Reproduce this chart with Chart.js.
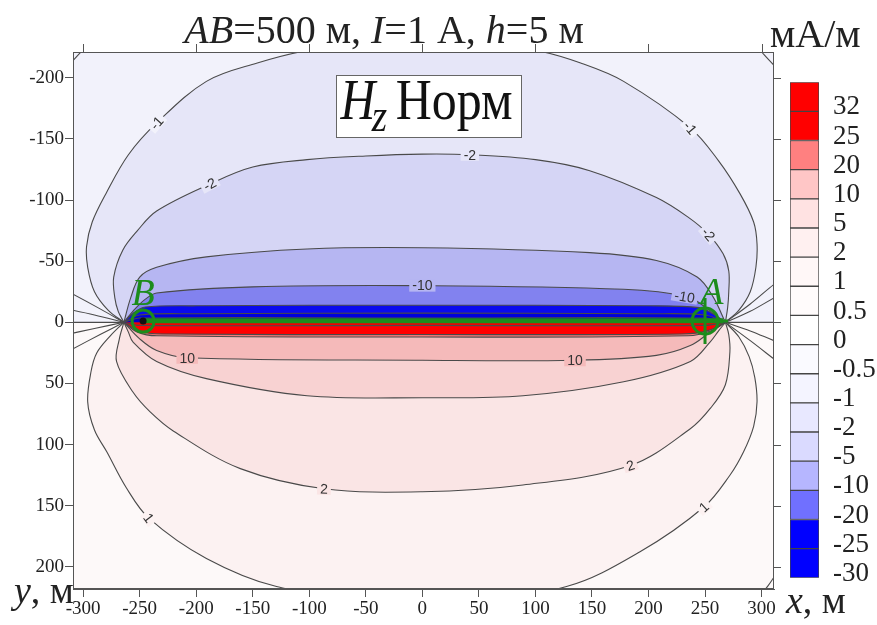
<!DOCTYPE html>
<html>
<head>
<meta charset="utf-8">
<script src="https://cdn.jsdelivr.net/npm/chart.js@4.4.1/dist/chart.umd.min.js"></script>
<style>
  html, body { margin: 0; padding: 0; background: #fff; }
  #wrap { position: relative; width: 877px; height: 625px; overflow: hidden; }
  #main { position: absolute; left: 0; top: 0; }
  #bar { position: absolute; left: 790px; top: 60px; }
</style>
</head>
<body>
<div id="wrap">
  <canvas id="main" width="877" height="625"></canvas>
  <canvas id="bar" width="87" height="540"></canvas>
</div>
<script>
// axes
const xTicks = [-300, -250, -200, -150, -100, -50, 0, 50, 100, 150, 200, 250, 300];
const xTopTicks = [-300, -200, -100, 0, 100, 200, 300];
const yTicks = [-200, -150, -100, -50, 0, 50, 100, 150, 200];

// colour bar, top to bottom
const levelLabels = ['32', '25', '20', '10', '5', '2', '1', '0.5', '0', '-0.5', '-1', '-2', '-5', '-10', '-20', '-25', '-30'];
const cellColors = ['#ff0000', '#ff0000', '#ff8080', '#ffc6c6', '#ffe2e2', '#fff0f0', '#fff7f7', '#fffbfb', '#ffffff',
  '#fafaff', '#f4f4ff', '#e8e8ff', '#dadaff', '#b6b6ff', '#7070ff', '#0000ff', '#0000ff'];

// contours above the line (y < 0), B side -> A side
const cNeg1 = [[-264, 0], [-278, -10], [-290, -25], [-296, -45], [-297, -62], [-292, -82], [-280, -105], [-260, -137], [-235, -163],
  [-191, -197], [-146, -212], [-103, -222], [0, -236], [102, -222], [140, -212], [178, -197], [237, -159], [262, -132], [281, -105],
  [293, -82], [296, -64], [295, -45], [290, -25], [280, -10], [268, 0]];
const cNeg2 = [[-264, 0], [-269, -9], [-272, -20], [-273, -37], [-265, -59], [-252, -75], [-235, -91], [-188, -113], [-150, -127],
  [-102, -133], [-50, -136], [0, -137.5], [42, -137], [100, -133], [148, -124], [207, -102], [235, -86], [253, -72], [266, -56],
  [271, -42], [271, -25], [270, -12], [268, 0]];
const cNeg5 = [[-264, 0], [-258, -20], [-250, -37], [-235, -45], [-191, -53.5], [-102, -60], [0, -61], [148, -57], [207, -50.5],
  [243, -37], [257, -21], [268, 0]];
const cNeg10 = [[-264, 0], [-258, -7], [-252, -13], [-245, -19], [-235, -24], [-150, -29], [0, -30], [178, -27], [234, -21],
  [251, -12], [260, -5], [268, 0]];
const cNeg20 = [[-264, 0], [-255, -8], [-245, -12.5], [-200, -13.5], [0, -14], [200, -13.5], [245, -12], [257, -7], [268, 0]];
const cNeg25 = [[-264, 0], [-250, -6], [-200, -7], [0, -7.5], [200, -7], [250, -6], [268, 0]];
const cNeg30 = [[-264, 0], [-250, -3.5], [0, -3.5], [250, -3.5], [268, 0]];

// contours below the line (y > 0)
const cPos1 = [[-264, 0], [-276, 11], [-288, 25], [-293, 40], [-296, 65], [-290, 88], [-279, 106], [-262, 135], [-242, 160],
  [-191, 193], [-129, 216], [0, 236], [127.5, 216], [192.5, 187.6], [249, 151], [272, 125], [284, 106], [293, 85], [296, 65],
  [294, 45], [289, 28], [280, 12], [268, 0]];
const cPos2 = [[-264, 0], [-268, 13.5], [-270.5, 32], [-256, 57], [-241, 73], [-220, 89], [-161, 119.6], [-87, 136], [0, 138.5],
  [89, 133], [184, 117], [237, 87], [255, 70], [268, 51], [272, 24], [271, 10], [268, 0]];
const cPos5 = [[-264, 0], [-260, 8], [-256, 16], [-235, 32], [-191, 46], [-102, 60], [0, 61.6], [89, 60], [178, 48.6], [237, 32],
  [254.6, 16], [262, 7], [268, 0]];
const cPos10 = [[-264, 0], [-250, 13.5], [-235, 23], [-208, 29], [0, 31], [135, 31], [207, 27], [237, 19], [254.6, 8], [268, 0]];
const cPos20 = [[-264, 0], [-252, 8], [-235, 11], [0, 12], [235, 11], [255, 7], [268, 0]];
const cPos25 = [[-264, 0], [-250, 7.5], [-230, 9.5], [0, 10], [230, 9.5], [252, 7], [268, 0]];
const cPos32 = [[-264, 0], [-250, 2.5], [0, 2.5], [250, 2.5], [268, 0]];

// short contour pieces leaving the frame
const fanLines = [
  [[-264, 0], [-285, -11], [-309, -23], [-330, -33]],
  [[-264, 0], [-290, -6], [-320, -12]],
  [[-264, 0], [-285, 10], [-309, 21.6], [-330, 32]],
  [[-264, 0], [-290, 5], [-320, 11]],
  [[268, 0], [290, -15], [311, -31], [325, -40]],
  [[268, 0], [290, -9], [311, -20], [325, -27]],
  [[268, 0], [290, 7], [311, 15], [325, 20]],
  [[268, 0], [290, 15], [311, 30], [325, 40]],
  [[-320, 0], [-264, 0]],
  [[268, 0], [320, 0]],
  [[-316, -207], [-309, -214], [-301, -222], [-295, -228]],
  [[296, -226], [302, -219], [311, -210], [316, -204]],
  [[300, 222], [306, 215], [312, 207], [318, 200]]
];

// line AB and electrodes
const wireAB = [[-247, -1.2], [266, -1.2]];
const electrodeB = [-247, -1];
const electrodeA = [250, -1];

// contour labels: text, x, y, angle
const contourLabels = [
  ['-1', -235, -163, -49], ['-1', 237, -159, 50], ['-2', -188, -113, -27], ['-2', 42, -137, 0], ['-2', 253, -72, 50],
  ['-10', 0, -30, 0], ['-10', 232, -21, 10], ['10', -208, 29, 0], ['10', 135, 31, 0], ['2', -87, 136, 2], ['2', 184, 117, -18],
  ['1', -242, 160, 53], ['1', 249, 151, -42]
];

const P = a => a.map(([x, y]) => ({ x, y }));
const green = '#1c8c1c';

function contour(pts, fillColor, order) {
  return {
    data: P(pts),
    fill: fillColor ? 'shape' : false,
    backgroundColor: fillColor || 'transparent',
    borderColor: '#4a4a4a',
    borderWidth: 1.1,
    pointRadius: 0,
    tension: 0.35,
    order
  };
}

const datasets = [
  contour(cNeg1, '#e6e6f8', 40), contour(cNeg2, '#d5d5f5', 39), contour(cNeg5, '#b6b6f2', 38), contour(cNeg10, '#8282ef', 37),
  contour(cNeg20, '#0a0aee', 36), contour(cNeg25, '#0000dc', 35), contour(cNeg30, '#0000c4', 34),
  contour(cPos1, '#fcf2f2', 40), contour(cPos2, '#fae5e5', 39), contour(cPos5, '#f8d2d2', 38), contour(cPos10, '#f5baba', 37),
  contour(cPos20, '#f47878', 36), contour(cPos25, '#ff0000', 35), contour(cPos32, '#f00000', 34),
  ...fanLines.map(l => contour(l, null, 10)),
  { data: P(wireAB), borderColor: green, borderWidth: 5, pointRadius: 0, fill: false, order: 3 },
  { data: P([electrodeB]), showLine: false, pointStyle: 'circle', pointRadius: 11, pointBorderWidth: 3,
    pointBorderColor: green, pointBackgroundColor: 'rgba(0,0,0,0)', order: 2 },
  { data: P([electrodeB]), showLine: false, pointStyle: 'circle', pointRadius: 3.5, pointBorderWidth: 0,
    pointBackgroundColor: '#111', order: 1 },
  { data: P([electrodeA]), showLine: false, pointStyle: 'circle', pointRadius: 13, pointBorderWidth: 3,
    pointBorderColor: green, pointBackgroundColor: 'rgba(0,0,0,0)', order: 2 },
  { data: P([electrodeA]), showLine: false, pointStyle: 'cross', pointRadius: 23, pointBorderWidth: 3,
    pointBorderColor: green, order: 1 }
];

const serif = "'Liberation Serif', 'Times New Roman', Times, serif";

function runs(ctx, parts, x, y, size, align, weight) {
  const fontOf = it => (it ? 'italic ' : '') + (weight ? weight + ' ' : '') + size + 'px ' + serif;
  let w = 0;
  parts.forEach(([t, it]) => { ctx.font = fontOf(it); w += ctx.measureText(t).width; });
  let cx = align === 'center' ? x - w / 2 : x;
  ctx.textAlign = 'left';
  ctx.textBaseline = 'alphabetic';
  parts.forEach(([t, it]) => { ctx.font = fontOf(it); ctx.fillText(t, cx, y); cx += ctx.measureText(t).width; });
}

const overlay = {
  id: 'overlay',
  beforeDatasetsDraw(chart) {
    const { ctx, chartArea: a, scales: { y } } = chart;
    const y0 = y.getPixelForValue(0);
    ctx.save();
    ctx.fillStyle = '#f2f2fb';
    ctx.fillRect(a.left, a.top, a.width, y0 - a.top);
    ctx.fillStyle = '#fdf9f9';
    ctx.fillRect(a.left, y0, a.width, a.bottom - y0);
    ctx.restore();
  },
  afterDatasetsDraw(chart) {
    const { ctx, chartArea: a, scales: { x, y } } = chart;
    ctx.save();
    // contour labels
    ctx.font = '14px Arial, sans-serif';
    contourLabels.forEach(([t, vx, vy, ang]) => {
      const px = x.getPixelForValue(vx), py = y.getPixelForValue(vy);
      const r = ang * Math.PI / 180;
      const sx = Math.round(px + Math.sin(r) * 6), sy = Math.round(py - Math.cos(r) * 6);
      const d = ctx.getImageData(sx, sy, 1, 1).data;
      ctx.save();
      ctx.translate(px, py);
      ctx.rotate(r);
      const w = ctx.measureText(t).width;
      ctx.fillStyle = `rgb(${d[0]},${d[1]},${d[2]})`;
      ctx.fillRect(-w / 2 - 3, -6, w + 6, 12);
      ctx.fillStyle = '#333';
      ctx.textAlign = 'center';
      ctx.textBaseline = 'middle';
      ctx.fillText(t, 0, 1);
      ctx.restore();
    });
    // frame and outer ticks
    ctx.strokeStyle = '#555';
    ctx.lineWidth = 1;
    ctx.strokeRect(a.left + 0.5, a.top + 0.5, a.width - 1, a.height - 1);
    ctx.beginPath();
    xTopTicks.forEach(v => {
      const px = Math.round(x.getPixelForValue(v)) + 0.5;
      ctx.moveTo(px, a.top); ctx.lineTo(px, a.top - 8);
    });
    yTicks.forEach(v => {
      const py = Math.round(y.getPixelForValue(v)) + 0.5;
      ctx.moveTo(a.right, py); ctx.lineTo(a.right + 7, py);
    });
    ctx.stroke();
    // Hz box
    const bl = x.getPixelForValue(-76), br = x.getPixelForValue(88);
    const bt = y.getPixelForValue(-202), bb = y.getPixelForValue(-151);
    ctx.fillStyle = '#fff';
    ctx.fillRect(bl, bt, br - bl, bb - bt);
    ctx.strokeStyle = '#666';
    ctx.strokeRect(Math.round(bl) + 0.5, Math.round(bt) + 0.5, Math.round(br - bl), Math.round(bb - bt));
    ctx.fillStyle = '#111';
    ctx.save();
    ctx.translate(bl + 4, 0);
    ctx.scale(0.86, 1);
    ctx.font = 'italic 56px ' + serif;
    ctx.fillText('H', 0, bt + 44);
    let cx = ctx.measureText('H').width - 4;
    ctx.font = 'italic 46px ' + serif;
    ctx.fillText('z', cx, bt + 56);
    cx += ctx.measureText('z').width + 10;
    ctx.font = '58px ' + serif;
    ctx.fillText('Норм', cx, bt + 44);
    ctx.restore();
    // electrode letters
    ctx.fillStyle = green;
    ctx.textAlign = 'center';
    ctx.textBaseline = 'alphabetic';
    ctx.font = 'italic 38px ' + serif;
    ctx.fillText('B', x.getPixelForValue(-247), y.getPixelForValue(-14));
    ctx.fillText('A', x.getPixelForValue(256), y.getPixelForValue(-15));
    ctx.restore();
  },
  afterDraw(chart) {
    const { ctx } = chart;
    ctx.save();
    ctx.fillStyle = '#222';
    runs(ctx, [['AB', true], ['=500 м, ', false], ['I', true], ['=1 А, ', false], ['h', true], ['=5 м', false]], 384, 43, 40, 'center');
    runs(ctx, [['мА/м', false]], 770, 47, 40, 'left');
    runs(ctx, [['y', true], [', м', false]], 14, 603, 38, 'left');
    runs(ctx, [['x', true], [', м', false]], 786, 613, 38, 'left');
    ctx.restore();
  }
};

const tickFont = { family: serif, size: 19 };

new Chart(document.getElementById('main'), {
  type: 'line',
  data: { datasets },
  options: {
    responsive: false,
    animation: false,
    events: [],
    layout: { padding: { top: 52, right: 103, left: 0, bottom: 0 } },
    elements: { line: { capBezierPoints: false } },
    plugins: { legend: { display: false }, tooltip: { enabled: false } },
    scales: {
      x: {
        type: 'linear', min: -309, max: 311,
        afterBuildTicks: s => { s.ticks = xTicks.map(v => ({ value: v })); },
        afterFit: s => { s.height = 36; },
        grid: { drawOnChartArea: false, tickLength: 8, color: '#555' },
        border: { color: '#555' },
        ticks: { font: tickFont, color: '#222', padding: 1, maxRotation: 0, autoSkip: false }
      },
      y: {
        type: 'linear', min: -221, max: 218, reverse: true,
        afterBuildTicks: s => { s.ticks = yTicks.map(v => ({ value: v })); },
        afterFit: s => { s.width = 73; },
        grid: { drawOnChartArea: false, tickLength: 8, color: '#555' },
        border: { color: '#555' },
        ticks: { font: tickFont, color: '#222', padding: 1, autoSkip: false }
      }
    }
  },
  plugins: [overlay]
});

// colour bar: stacked cells, bottom to top
const barSets = cellColors.slice().reverse().map(c => ({
  data: [1], backgroundColor: c, borderColor: '#444', borderWidth: 1, borderSkipped: false,
  barPercentage: 1, categoryPercentage: 1
}));

new Chart(document.getElementById('bar'), {
  type: 'bar',
  data: { labels: ['c'], datasets: barSets },
  options: {
    responsive: false,
    animation: false,
    events: [],
    layout: { padding: { top: 17.7, bottom: 18.3, left: 0, right: 0 } },
    plugins: { legend: { display: false }, tooltip: { enabled: false } },
    scales: {
      x: { display: false, stacked: true },
      y: {
        position: 'right', stacked: true, min: 0, max: 17,
        afterBuildTicks: s => { s.ticks = levelLabels.map((_, i) => ({ value: 16 - i })); },
        afterFit: s => { s.width = 58; },
        grid: { display: false },
        border: { display: false },
        ticks: {
          font: { family: serif, size: 27 }, color: '#222', padding: 6, autoSkip: false, labelOffset: -4,
          callback: v => levelLabels[16 - v]
        }
      }
    }
  }
});
</script>
</body>
</html>
